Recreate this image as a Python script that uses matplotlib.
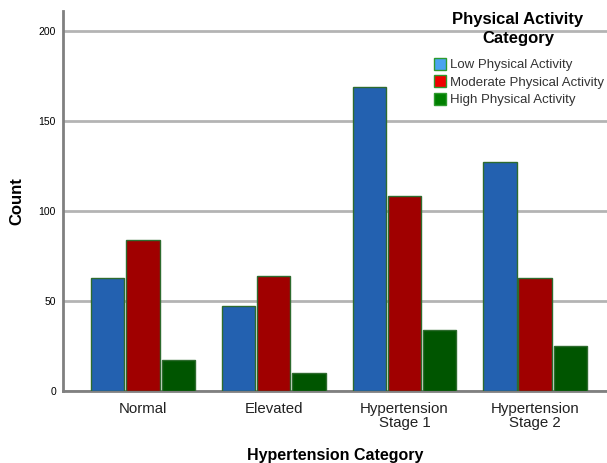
import numpy as np
import matplotlib.pyplot as plt
from matplotlib.patches import Patch

plt.rcParams['font.family'] = ['Liberation Sans', 'DejaVu Sans']

# data
categories = ['Normal', 'Elevated', 'Hypertension\nStage 1', 'Hypertension\nStage 2']
low_activity = [63, 47, 169, 127]
moderate_activity = [84, 64, 108, 63]
high_activity = [17, 10, 34, 25]
series_names = ['Low Physical Activity', 'Moderate Physical Activity', 'High Physical Activity']

bar_colors = ['#2361b0', '#a00000', '#005500']
legend_colors = ['#4aa3f0', '#f00000', '#008000']

W, H = 607, 463
fig = plt.figure(figsize=(W / 100, H / 100), dpi=100)
ax = fig.add_axes([63 / W, (H - 391) / H, (W - 63) / W, (391 - 11) / H])

x = np.arange(len(categories))
w = 0.255
for i, vals in enumerate([low_activity, moderate_activity, high_activity]):
    ax.bar(x + (i - 1) * (w + 0.015), vals, width=w, color=bar_colors[i],
           edgecolor='#2e6b2e', linewidth=1.0, zorder=3)

ax.set_xlim(-0.613, 3.55)
ax.set_ylim(0, 211)
ax.set_yticks([0, 50, 100, 150, 200])
ax.yaxis.grid(True, color='#b4b4b4', linewidth=2, zorder=0)
ax.set_axisbelow(True)

for s in ['top', 'right']:
    ax.spines[s].set_visible(False)
for s in ['left', 'bottom']:
    ax.spines[s].set_color('#808080')
    ax.spines[s].set_linewidth(2)

ax.set_xticks(x)
ax.set_xticklabels(categories, fontsize=10.8, color='#222222', linespacing=1.0)
ax.tick_params(axis='y', length=0, labelsize=7.5, pad=5)
ax.tick_params(axis='x', length=0, labelsize=10.8, pad=8)

ax.set_ylabel('Count', fontsize=12, fontweight='bold', labelpad=10)
ax.set_xlabel('Hypertension Category', fontsize=11.5, fontweight='bold', labelpad=13)

# legend title drawn separately to match spacing
fig.text(518 / W, 1 - 12 / H, 'Physical Activity\nCategory', ha='center', va='top',
         fontsize=12, fontweight='bold', linespacing=1.3, multialignment='center')

handles = [Patch(facecolor=c, edgecolor='#2e9b2e', linewidth=1) for c in legend_colors]
leg = fig.legend(handles, series_names, loc='upper left', bbox_to_anchor=(427 / W, 1 - 51 / H),
                 frameon=False, fontsize=9.5, handlelength=0.95, handleheight=1.05,
                 handletextpad=0.3, labelspacing=0.3, borderpad=0)
for t in leg.get_texts():
    t.set_color('#333333')

fig.savefig('out.png', dpi=100)
